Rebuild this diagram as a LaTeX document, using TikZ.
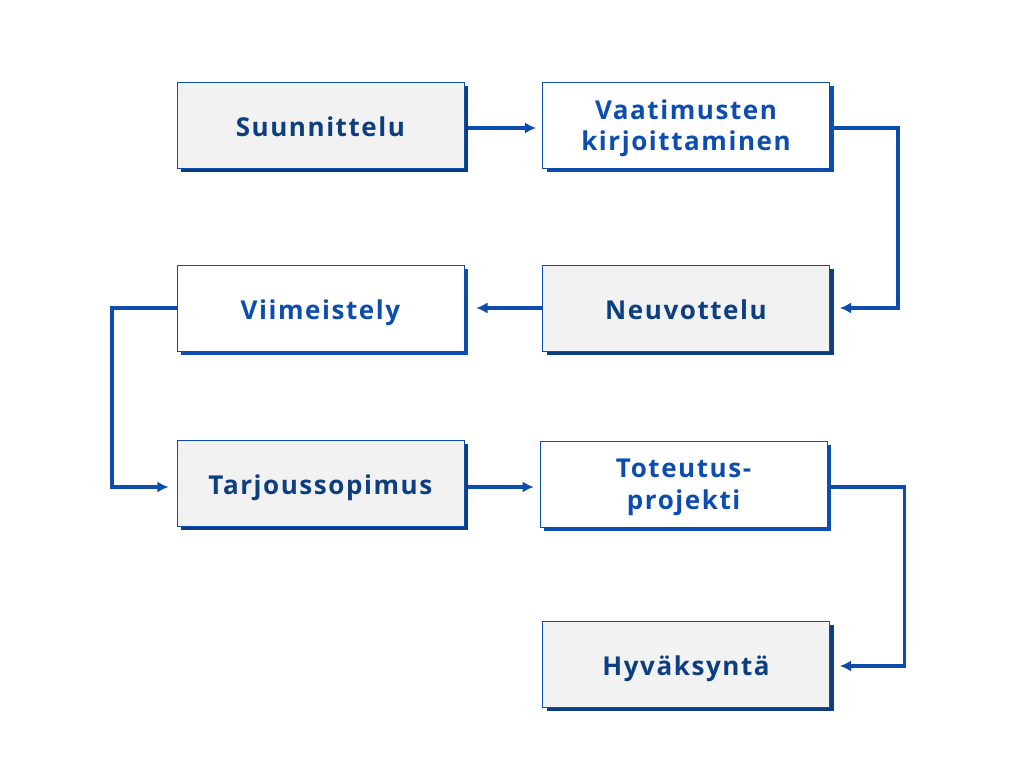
\documentclass[tikz,border=0pt]{standalone}
\usepackage{fontspec}
\setmainfont{Open Sans}[LetterSpace=6]
\usetikzlibrary{arrows.meta, shadows, positioning}
\definecolor{navy}{RGB}{12, 62, 128}
\definecolor{blue}{RGB}{13, 77, 176}
\definecolor{boxgray}{RGB}{242, 242, 242}

\begin{document}
\begin{tikzpicture}[
    box/.style={rectangle, draw=blue, line width=0.5pt, minimum width=7.175cm,
      minimum height=2.15cm, align=center, text depth=0pt,
      font=\bfseries\fontsize{18.5}{22.5}\selectfont},
    oneline/.style={text height=17pt},
    graybox/.style={box, fill=boxgray, text=navy,
      drop shadow={shadow xshift=0.1cm, shadow yshift=-0.1cm, fill=navy, opacity=1}},
    whitebox/.style={box, fill=white, text=blue,
      drop shadow={shadow xshift=0.1cm, shadow yshift=-0.1cm, fill=blue, opacity=1}},
    flow/.style={draw=blue, line width=2.4pt, -{Latex[length=8pt, width=8pt]}}
  ]
      \useasboundingbox (0,0) rectangle (25.6,19.2);

      % Steps
      \node[graybox, oneline]  (plan)    at (8.01, 16.075) {Suunnittelu};
      \node[whitebox]          (req)     at (17.15, 16.075) {Vaatimusten\\kirjoittaminen};
      \node[graybox, oneline]  (nego)    at (17.15, 11.5) {Neuvottelu};
      \node[whitebox, oneline] (finish)  at (8.01, 11.5) {Viimeistely};
      \node[graybox, oneline]  (offer)   at (8.01, 7.125) {Tarjoussopimus};
      \node[whitebox]          (project) at (17.09, 7.1) {Toteutus-\\projekti};
      \node[graybox, oneline]  (accept)  at (17.15, 2.6) {Hyväksyntä};

      % Rows of the connectors and turning points
      \coordinate (r1) at (0, 16.0);
      \coordinate (r2) at (0, 11.5);
      \coordinate (r3) at (0, 7.025);
      \coordinate (r4) at (0, 2.55);
      \coordinate (c1) at (22.45, 16.0);
      \coordinate (c2) at (2.8, 11.5);
      \coordinate (c3) at (22.62, 7.025);

      % Connectors
      \draw[flow] ([xshift=0.1cm]plan.east |- r1) -- ([xshift=-0.15cm]req.west |- r1);
      \draw[flow] ([xshift=0.1cm]req.east |- r1) -- (c1) |- ([xshift=0.25cm]nego.east |- r2);
      \draw[flow] (nego.west |- r2) -- ([xshift=0.3cm]finish.east |- r2);
      \draw[flow] (finish.west |- r2) -- (c2) |- ([xshift=-0.2cm]offer.west |- r3);
      \draw[flow] ([xshift=0.1cm]offer.east |- r3) -- ([xshift=-0.15cm]project.west |- r3);
      \draw[flow] ([xshift=0.1cm]project.east |- r3) -- (c3) |- ([xshift=0.25cm]accept.east |- r4);
\end{tikzpicture}
\end{document}
